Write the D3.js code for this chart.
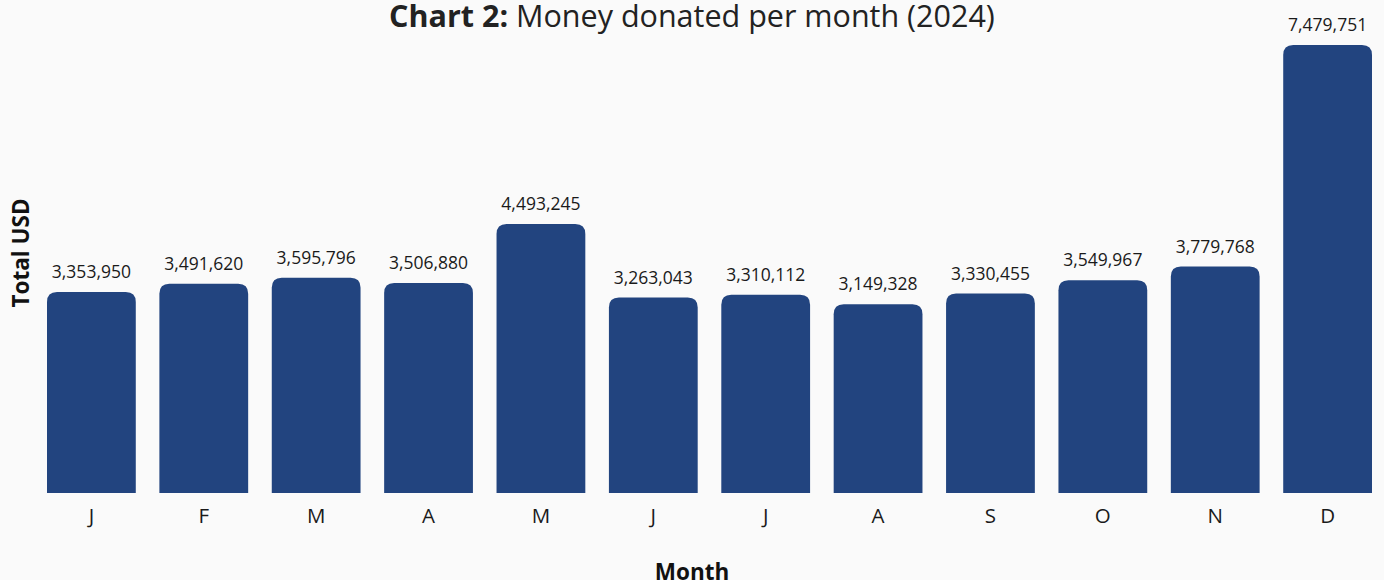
<!DOCTYPE html>
<html>
<head>
<meta charset="utf-8">
<script src="https://cdn.jsdelivr.net/npm/d3@7"></script>
<style>
    body { margin: 0; background: #fafafa; font-family: "Open Sans", sans-serif; }
    svg { display: block; }
</style>
</head>
<body>
<div id="chart"></div>
<script>
// Monthly totals
let months = ["J", "F", "M", "A", "M", "J", "J", "A", "S", "O", "N", "D"];
let totals = [3353950, 3491620, 3595796, 3506880, 4493245, 3263043, 3310112, 3149328, 3330455, 3549967, 3779768, 7479751];

let width = 1384, height = 580;
let margin = {top: 45, right: 12, bottom: 87, left: 47};

let svg = d3.select("#chart").append("svg")
    .attr("width", width)
    .attr("height", height);

let data = months.map((m, i) => ({key: i, label: m, value: totals[i]}));

// Scales
let x = d3.scaleBand()
    .domain(data.map(d => d.key))
    .range([margin.left, width - margin.right])
    .paddingInner(0.21)
    .paddingOuter(0);

let y = d3.scaleLinear()
    .domain([0, d3.max(totals)])
    .range([height - margin.bottom, margin.top]);

// Bars with rounded tops
let r = 10;
function barPath(d) {
    let x0 = x(d.key), x1 = x0 + x.bandwidth();
    let y0 = y(0), y1 = y(d.value);
    return `M${x0},${y0}V${y1 + r}Q${x0},${y1} ${x0 + r},${y1}H${x1 - r}Q${x1},${y1} ${x1},${y1 + r}V${y0}Z`;
}

svg.selectAll(".bar")
    .data(data)
    .enter().append("path")
    .attr("class", "bar")
    .attr("d", barPath)
    .attr("fill", "#22447f");

// Value labels
svg.selectAll(".bar-label")
    .data(data)
    .enter().append("text")
    .attr("class", "bar-label")
    .attr("x", d => x(d.key) + x.bandwidth() / 2)
    .attr("y", d => y(d.value) - 14)
    .attr("text-anchor", "middle")
    .attr("font-size", 17.5)
    .attr("fill", "#1a1a1a")
    .text(d => d3.format(",")(d.value));

// X axis
let xAxis = d3.axisBottom(x)
    .tickFormat(i => months[i])
    .tickSize(0)
    .tickPadding(15);

let gx = svg.append("g")
    .attr("transform", "translate(0," + y(0) + ")")
    .call(xAxis);
gx.select(".domain").remove();
gx.selectAll("text")
    .attr("font-family", "Open Sans, sans-serif")
    .attr("font-size", 20.5)
    .attr("fill", "#1a1a1a");

// Axis titles
svg.append("text")
    .attr("x", width / 2)
    .attr("y", 580)
    .attr("text-anchor", "middle")
    .attr("font-size", 22.5)
    .attr("font-weight", "bold")
    .attr("fill", "#111")
    .text("Month");

svg.append("text")
    .attr("transform", "translate(29,253) rotate(-90)")
    .attr("text-anchor", "middle")
    .attr("font-size", 22.5)
    .attr("font-weight", "bold")
    .attr("fill", "#111")
    .text("Total USD");

// Title
let title = svg.append("text")
    .attr("x", 692)
    .attr("y", 27)
    .attr("text-anchor", "middle")
    .attr("font-size", 30.5)
    .attr("fill", "#222");
title.append("tspan").attr("font-weight", "bold").text("Chart 2:");
title.append("tspan").text(" Money donated per month (2024)");
</script>
</body>
</html>
